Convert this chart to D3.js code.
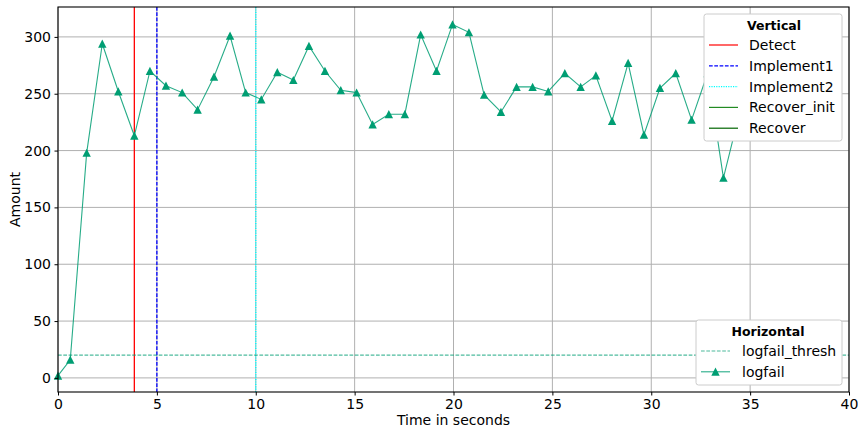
<!DOCTYPE html>
<html>
<head>
<meta charset="utf-8">
<script src="https://cdn.jsdelivr.net/npm/d3@7"></script>
<style>
body { margin: 0; background: #fff; }
text { font-family: "DejaVu Sans", sans-serif; }
</style>
</head>
<body>
<svg id="chart" width="858" height="431"></svg>
<script>
const timeValues = [0, 0.62, 1.45, 2.24, 3.05, 3.86, 4.65, 5.46, 6.28, 7.06, 7.89, 8.70, 9.49, 10.28, 11.09, 11.9, 12.69, 13.5, 14.3, 15.1, 15.91, 16.73, 17.54, 18.34, 19.14, 19.95, 20.78, 21.55, 22.4, 23.19, 24.0, 24.79, 25.63, 26.43, 27.2, 28.02, 28.83, 29.63, 30.44, 31.24, 32.04, 32.85, 33.65, 34.45];
const logfailValues = [2, 16, 198, 294, 252, 213, 270, 257, 251, 236, 265, 301, 251, 245, 269, 262, 292, 270, 253, 251, 223, 232, 232, 302, 270, 311, 304, 249, 234, 256, 256, 252, 268, 256, 266, 226, 277, 214, 255, 268, 227, 268, 176, 232];
const thresholdValue = 20;
const verticalNames = ["Detect", "Implement1", "Implement2", "Recover_init", "Recover"];
const verticalTimes = [3.86, 5.0, 10.0, null, null];
const verticalColors = ["#ff0000", "#0000ff", "#00ffff", "#228b22", "#006400"];
const verticalDash = ["", "3.7,1.6", "1.2,1.2", "", ""];
const horizontalNames = ["logfail_thresh", "logfail"];
const xTicks = [0, 5, 10, 15, 20, 25, 30, 35, 40];
const yTicks = [0, 50, 100, 150, 200, 250, 300];
const xLabel = "Time in seconds";
const yLabel = "Amount";

const svg = d3.select("#chart");
const L = 58, R = 849, T = 7, B = 392;
const x = d3.scaleLinear().domain([0, 40]).range([L, R]);
const y = d3.scaleLinear().domain([-12.4, 326.3]).range([B, T]);
const lineColor = "#009e73";
const FS = 14;

// grid
const g = svg.append("g");
g.selectAll(".gx").data(xTicks).enter().append("line")
  .attr("x1", d => x(d)).attr("x2", d => x(d)).attr("y1", T).attr("y2", B)
  .attr("stroke", "#b0b0b0").attr("stroke-width", 1);
g.selectAll(".gy").data(yTicks).enter().append("line")
  .attr("x1", L).attr("x2", R).attr("y1", d => y(d)).attr("y2", d => y(d))
  .attr("stroke", "#b0b0b0").attr("stroke-width", 1);

// vertical lines
verticalTimes.forEach((t, i) => {
  if (t === null) return;
  svg.append("line").attr("x1", x(t)).attr("x2", x(t)).attr("y1", T).attr("y2", B)
    .attr("stroke", verticalColors[i]).attr("stroke-width", i === 2 ? 1.5 : 1.3)
    .attr("stroke-dasharray", verticalDash[i] || null);
});

// threshold
svg.append("line").attr("x1", L).attr("x2", R).attr("y1", y(thresholdValue)).attr("y2", y(thresholdValue))
  .attr("stroke", lineColor).attr("stroke-opacity", 0.7).attr("stroke-width", 1.1)
  .attr("stroke-dasharray", "3.7,1.6");

// data line
const data = timeValues.map((t, i) => [t, logfailValues[i]]);
svg.append("path").datum(data)
  .attr("d", d3.line().x(d => x(d[0])).y(d => y(d[1])))
  .attr("fill", "none").attr("stroke", lineColor).attr("stroke-opacity", 0.85).attr("stroke-width", 1.1);
const tri = "M0,-4.2L4.2,4L-4.2,4Z";
svg.selectAll(".m").data(data).enter().append("path")
  .attr("d", tri).attr("transform", d => `translate(${x(d[0])},${y(d[1])})`)
  .attr("fill", lineColor);

// frame
svg.append("rect").attr("x", L).attr("y", T).attr("width", R - L).attr("height", B - T)
  .attr("fill", "none").attr("stroke", "#000").attr("stroke-width", 1.1);

// axes
const xAxis = svg.append("g").attr("transform", `translate(0,${B})`)
  .call(d3.axisBottom(x).tickValues(xTicks).tickSize(3.5).tickPadding(3.5).tickFormat(d3.format("d")));
const yAxis = svg.append("g").attr("transform", `translate(${L},0)`)
  .call(d3.axisLeft(y).tickValues(yTicks).tickSize(3.5).tickPadding(3.5).tickFormat(d3.format("d")));
[xAxis, yAxis].forEach(a => {
  a.select(".domain").remove();
  a.selectAll("text").attr("font-size", FS).attr("fill", "#000").attr("font-family", "DejaVu Sans");
  a.selectAll("line").attr("stroke", "#000");
});

svg.append("text").attr("x", (L + R) / 2).attr("y", 425).attr("text-anchor", "middle")
  .attr("font-size", FS).text(xLabel);
svg.append("text").attr("transform", `translate(20,${(T + B) / 2}) rotate(-90)`).attr("text-anchor", "middle")
  .attr("font-size", FS).text(yLabel);

// legends
function legend(x0, y0, w, h, title, names, drawHandle, titleX, textX) {
  const lg = svg.append("g");
  lg.append("rect").attr("x", x0).attr("y", y0).attr("width", w).attr("height", h)
    .attr("rx", 2.5).attr("fill", "#fff").attr("stroke", "#cccccc");
  lg.append("text").attr("x", titleX).attr("y", y0 + 15.5).attr("text-anchor", "middle")
    .attr("font-size", 12.5).attr("font-weight", "bold").text(title);
  names.forEach((n, i) => {
    const cy = y0 + 31 + i * 20.8;
    drawHandle(lg, i, cy);
    lg.append("text").attr("x", textX).attr("y", cy + 5).attr("font-size", FS).text(n);
  });
}
legend(704, 14, 138, 127, "Vertical", verticalNames, (lg, i, cy) => {
  lg.append("line").attr("x1", 709).attr("x2", 738).attr("y1", cy).attr("y2", cy)
    .attr("stroke", verticalColors[i]).attr("stroke-width", 1.2)
    .attr("stroke-dasharray", verticalDash[i] || null);
}, 774, 749);
legend(696, 320, 146, 65, "Horizontal", horizontalNames, (lg, i, cy) => {
  lg.append("line").attr("x1", 701).attr("x2", 730).attr("y1", cy).attr("y2", cy)
    .attr("stroke", lineColor).attr("stroke-opacity", i === 0 ? 0.7 : 0.85).attr("stroke-width", 1.1)
    .attr("stroke-dasharray", i === 0 ? "3.7,1.6" : null);
  if (i === 1) lg.append("path").attr("d", tri).attr("transform", `translate(715.5,${cy})`).attr("fill", lineColor);
}, 768, 742);
</script>
</body>
</html>
